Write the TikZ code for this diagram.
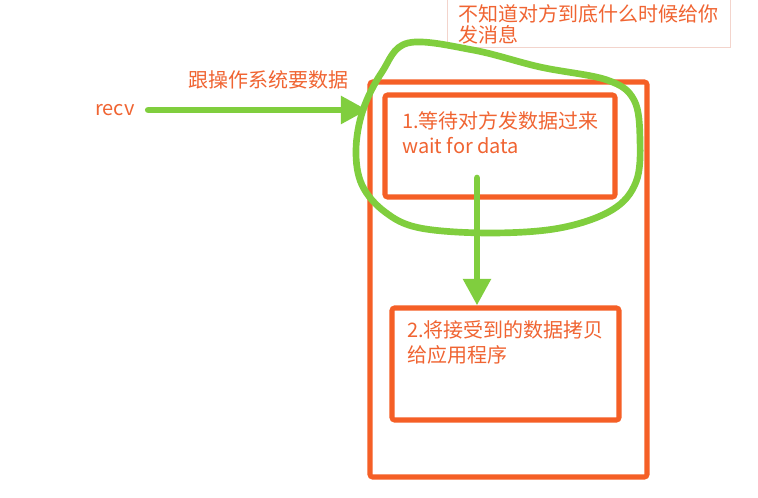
\documentclass[tikz,border=0pt]{standalone}
\usepackage{fontspec}
\setmainfont{Noto Sans CJK SC}
\usepackage{tikz}
\usetikzlibrary{arrows.meta}
\definecolor{boxorange}{RGB}{245,95,38}
\definecolor{txtorange}{RGB}{240,100,50}
\definecolor{pengreen}{RGB}{128,206,62}
\definecolor{notepink}{RGB}{243,212,204}

\begin{document}
\begin{tikzpicture}[x=0.75pt,y=-0.75pt,
    box/.style={draw=boxorange,line width=3.8pt,rounded corners=2pt,inner sep=0pt},
    txt/.style={text=txtorange,font=\fontsize{15}{18.75}\selectfont,inner sep=0pt},
    pen/.style={draw=pengreen,line width=5pt,line cap=round},
    penarrow/.style={pen,-{Triangle[length=20pt,width=20pt]}}]
  \useasboundingbox[fill=white](0,0) rectangle (758,498);
  % boxes
  \node[box,minimum width=207.75pt,minimum height=296.25pt] (outer) at (508.5,279.5) {};
  \node[box,minimum width=172.5pt,minimum height=76.5pt] (wait) at (500,146) {};
  \node[box,minimum width=170.25pt,minimum height=84pt] (copy) at (505.5,364) {};
  % texts
  \node[txt,anchor=north west,align=left] (waittext) at (402,111) {1.等待对方发数据过来\\wait for data};
  \node[txt,anchor=north west,align=left] (copytext) at (407,320) {2.将接受到的数据拷贝\\给应用程序};
  \node[txt,anchor=west] (recv) at (95,110) {recv};
  \node[txt,anchor=west] (ask) at (188,80) {跟操作系统要数据};
  \node[draw=notepink,line width=0.6pt,anchor=north west,minimum width=212pt,minimum height=37.5pt] (note) at (447,-3) {};
  \node[txt,anchor=north west,align=left,font=\fontsize{15}{15.75}\selectfont] (notetext) at (458,4) {不知道对方到底什么时候给你\\发消息};
  % green pen
  \draw[penarrow,shorten <=10pt] (recv.east) -- (recv.east -| outer.west);
  \coordinate (tail) at (477,178);
  \draw[penarrow] (tail) -- (tail |- copy.north);
  \draw[pen] plot[smooth cycle,tension=0.6] coordinates {(408,43) (473,50) (540,67) (607,80) (634,100)
    (640,140) (636,182) (612,210) (560,228) (490,233) (420,228) (385,212) (362,185) (356,150)
    (363,110) (382,72)};
\end{tikzpicture}
\end{document}
